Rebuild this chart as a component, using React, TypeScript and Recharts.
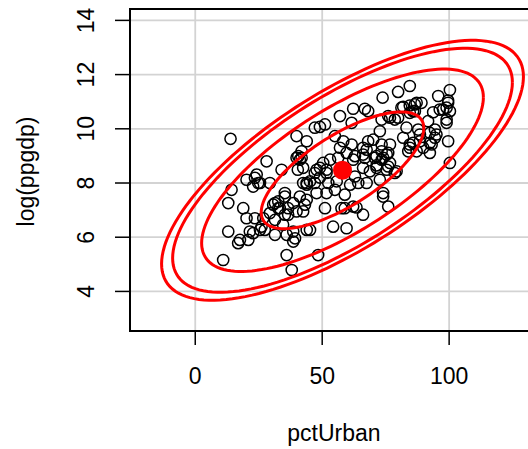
import React from 'react'
import { ScatterChart, Scatter, XAxis, YAxis, CartesianGrid, ReferenceArea, Label } from 'recharts'

// one value per country
const pctUrban = [
  13.9, 39.9, 43.9, 28.1, 34.0, 39.9, 41.9, 40.4, 24.2, 84.5,
  79.9, 100.3, 73.8, 95.7, 99.6, 62.2, 66.8, 68.1, 57.0, 81.9,
  84.5, 87.2, 89.1, 96.3, 99.0, 100.3, 93.7, 76.7, 79.9, 84.5,
  86.5, 91.7, 99.0, 51.1, 49.1, 47.1, 61.6, 72.7, 83.2, 87.8,
  92.4, 94.4, 55.0, 58.3, 61.6, 68.1, 70.1, 73.4, 76.7, 81.9,
  84.5, 88.5, 92.4, 94.4, 99.6, 57.0, 66.1, 67.5, 73.4, 75.4,
  84.5, 87.2, 89.8, 93.1, 56.3, 62.2, 66.8, 70.7, 73.4, 76.7,
  100.3, 50.4, 47.8, 51.7, 66.1, 71.4, 75.4, 79.3, 59.6, 62.9,
  66.1, 71.4, 76.0, 83.9, 42.5, 49.1, 51.7, 43.9, 47.1, 52.4,
  55.7, 62.9, 64.2, 68.8, 71.4, 67.5, 72.7, 47.8, 51.7, 41.2,
  43.2, 51.1, 57.6, 62.2, 66.1, 74.0, 76.0, 43.9, 54.3, 59.6,
  48.4, 58.9, 63.5, 45.2, 14.3, 20.2, 22.8, 25.5, 29.4, 13.0,
  18.9, 20.2, 23.5, 26.8, 29.4, 30.7, 32.7, 35.3, 33.3, 36.6,
  35.3, 39.9, 43.9, 31.4, 34.6, 13.0, 17.6, 16.9, 20.9, 22.8,
  25.5, 27.4, 31.4, 36.0, 38.6, 39.3, 38.6, 11.0, 36.0, 38.0,
  42.5, 40.6, 41.9, 23.5, 24.8, 35.3, 42.5, 45.2, 47.1, 43.9,
  38.6, 31.4, 32.7, 36.6, 21.5, 26.1, 86.5, 81.2, 99.6, 97.6,
  85.8, 76.0, 78.6, 73.4, 99.0, 88.5, 95.0, 85.8, 92.4, 74.0,
  76.0, 78.6, 74.0, 41.2, 55.0, 58.9, 61.0, 49.1, 53.1,
]
const logPpgdp = [
  9.63, 9.73, 9.54, 8.80, 8.49, 8.93, 8.93, 8.49, 8.31, 11.58,
  11.36, 11.43, 11.15, 11.21, 10.96, 10.74, 10.74, 10.65, 10.47, 10.81,
  10.86, 10.96, 10.96, 10.71, 10.78, 10.65, 10.61, 10.41, 10.41, 10.59,
  10.65, 10.28, 10.34, 10.16, 10.07, 10.04, 10.22, 9.91, 10.04, 9.97,
  9.85, 9.97, 9.73, 9.54, 9.42, 9.54, 9.60, 9.42, 9.42, 9.67,
  9.42, 9.54, 9.48, 9.67, 9.54, 9.30, 9.30, 9.23, 9.17, 9.05,
  9.30, 9.17, 9.30, 9.42, 8.93, 8.86, 8.93, 8.93, 8.86, 8.74,
  8.74, 8.74, 8.49, 8.49, 8.56, 8.56, 8.49, 8.43, 9.11, 8.99,
  9.05, 8.99, 9.11, 9.17, 8.56, 8.56, 8.37, 8.00, 8.00, 8.00,
  8.06, 8.24, 8.00, 8.43, 8.65, 8.00, 8.12, 7.63, 7.63, 7.50,
  7.20, 7.07, 7.07, 7.13, 6.83, 7.50, 7.13, 6.27, 6.39, 6.33,
  5.34, 7.07, 7.10, 6.27, 7.75, 8.12, 7.87, 8.00, 8.00, 7.26,
  7.07, 6.70, 6.70, 6.70, 6.89, 7.20, 7.32, 7.50, 7.07, 7.07,
  6.83, 6.95, 7.94, 6.64, 6.46, 6.21, 5.90, 5.78, 5.90, 6.15,
  6.27, 6.27, 6.09, 6.09, 6.21, 5.96, 5.84, 5.16, 5.34, 4.79,
  6.95, 8.99, 9.17, 8.19, 8.00, 7.63, 8.00, 8.06, 8.37, 7.38,
  7.26, 7.26, 7.07, 6.83, 6.21, 6.39, 10.90, 10.78, 11.04, 10.71,
  10.65, 10.47, 10.34, 10.34, 10.22, 9.79, 9.79, 9.48, 9.11, 8.93,
  8.61, 8.37, 7.63, 8.86, 7.75, 7.57, 7.94, 8.20, 8.86,
]

const xTicks = [0, 50, 100]
const yTicks = [4, 6, 8, 10, 12, 14]
const xDomain = [-25.7, 135]
const yDomain = [2.54, 14.42]

// data ellipse: centre, spread, correlation and the radii of the four levels
const centre = { x: 58.0, y: 8.47 }
const sdX = 27.2
const sdY = 1.83
const rho = 0.72
const radii = [1.177, 2.04, 2.46, 2.62]

const points = pctUrban.map((x, i) => ({ x, y: logPpgdp[i] }))

const ellipse = (r: number) => {
  const out = []
  for (let i = 0; i <= 144; i++) {
    const t = (i / 144) * 2 * Math.PI
    out.push({
      x: centre.x + r * sdX * Math.cos(t),
      y: centre.y + r * sdY * (rho * Math.cos(t) + Math.sqrt(1 - rho * rho) * Math.sin(t)),
    })
  }
  return out
}

const Ring = (props: any) => (
  <circle cx={props.cx} cy={props.cy} r={5.6} fill="none" stroke="#000" strokeWidth={1.5} />
)
const Dot = (props: any) => <circle cx={props.cx} cy={props.cy} r={9.5} fill="#ff0000" />
const Nothing = () => <g />

const YTick = (props: any) => {
  const { x, y, payload } = props
  return (
    <text x={x} y={y} transform={`rotate(-90 ${x} ${y})`} textAnchor="middle" fontSize={23} fill="#000">
      {payload.value}
    </text>
  )
}

const YTitle = (props: any) => {
  const vb = props.viewBox
  const cy = vb.y + vb.height / 2 + 1.5
  return (
    <text x={34} y={cy} transform={`rotate(-90 34 ${cy})`} textAnchor="middle" fontSize={23} fill="#000">
      log(ppgdp)
    </text>
  )
}

const XTitle = (props: any) => {
  const vb = props.viewBox
  return (
    <text x={vb.x + vb.width / 2} y={441} textAnchor="middle" fontSize={23} fill="#000">
      pctUrban
    </text>
  )
}

const App = () => {
  return (
    <div
      style={{
        position: 'absolute', left: 0, top: 0, width: 528, height: 449, overflow: 'hidden',
        background: '#fff', fontFamily: '"Liberation Sans", Arial, sans-serif',
      }}
    >
      <ScatterChart width={540} height={449} margin={{ top: 9, right: 2, bottom: 0, left: 0 }}>
        <CartesianGrid stroke="#d3d3d3" strokeWidth={1.8} />
        <XAxis
          type="number" dataKey="x" domain={xDomain} ticks={xTicks} interval={0} allowDataOverflow
          height={118} axisLine={false} tickSize={14} tickMargin={23}
          tickLine={{ stroke: '#000', strokeWidth: 1.5 }}
          tick={{ fill: '#000', fontSize: 23 }}
          label={<Label content={XTitle} />}
        />
        <YAxis
          type="number" dataKey="y" domain={yDomain} ticks={yTicks} interval={0} allowDataOverflow
          width={130} axisLine={false} tickSize={15} tickMargin={21}
          tickLine={{ stroke: '#000', strokeWidth: 1.5 }}
          tick={YTick}
          label={<Label content={YTitle} />}
        />
        <Scatter data={points} shape={Ring} isAnimationActive={false} />
        {radii.map((r) => (
          <Scatter
            key={r} data={ellipse(r)} shape={Nothing}
            line={{ stroke: '#ff0000', strokeWidth: 3 }}
            isAnimationActive={false}
          />
        ))}
        <Scatter data={[centre]} shape={Dot} isAnimationActive={false} />
        <ReferenceArea
          x1={xDomain[0]} x2={xDomain[1]} y1={yDomain[0]} y2={yDomain[1]}
          fill="none" fillOpacity={0} stroke="#000" strokeWidth={2} strokeOpacity={1}
        />
      </ScatterChart>
    </div>
  )
}

export default App
